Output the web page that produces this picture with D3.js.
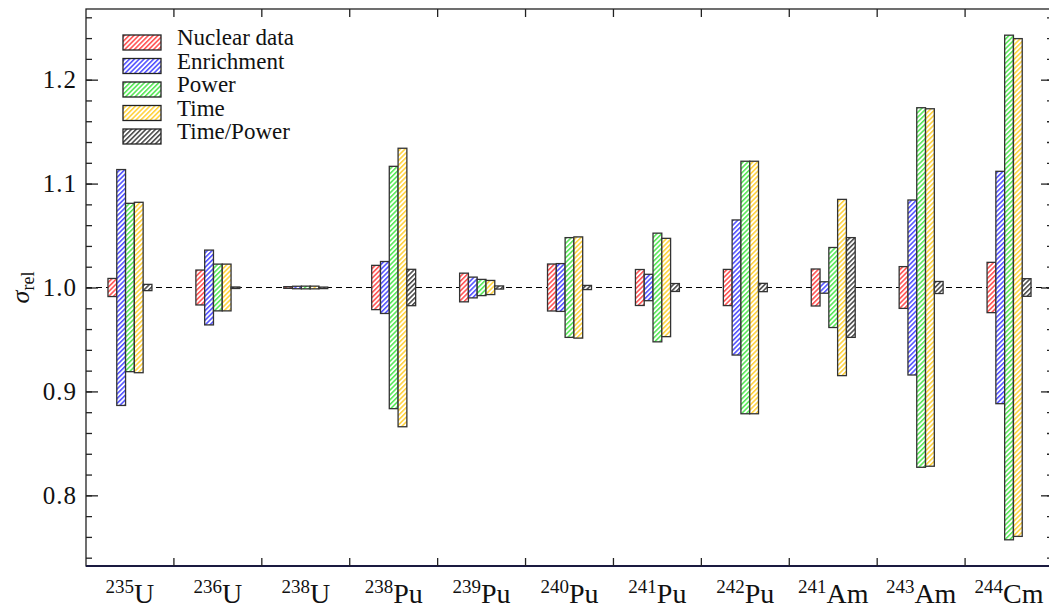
<!DOCTYPE html>
<html>
<head>
<meta charset="utf-8">
<script src="https://cdn.jsdelivr.net/npm/d3@7"></script>
<style>
  body { margin: 0; background: #fff; }
  svg text { font-family: "Liberation Serif", "DejaVu Serif", serif; fill: #111; }
</style>
</head>
<body>
<div id="chart"></div>
<script>
// isotopes (mass number, element)
var categories = ['235U', '236U', '238U', '238Pu', '239Pu', '240Pu', '241Pu', '242Pu', '241Am', '243Am', '244Cm'];
var massNumbers = ['235', '236', '238', '238', '239', '240', '241', '242', '241', '243', '244'];
var elements = ['U', 'U', 'U', 'Pu', 'Pu', 'Pu', 'Pu', 'Pu', 'Am', 'Am', 'Cm'];

var seriesNames = ['Nuclear data', 'Enrichment', 'Power', 'Time', 'Time/Power'];
var seriesColors = ['#ff1a1a', '#1a1aff', '#22e022', '#ffc400', '#111111'];

// relative std. deviation (bars go from 1 - s to 1 + s)
var nuclearData = [0.0087, 0.0168, 0.0008, 0.0213, 0.0138, 0.0226, 0.0173, 0.0174, 0.0178, 0.0201, 0.0242];
var enrichment  = [0.1135, 0.0360, 0.0012, 0.0250, 0.0100, 0.0230, 0.0127, 0.0650, 0.0055, 0.0842, 0.1118];
var power       = [0.0810, 0.0225, 0.0013, 0.1166, 0.0078, 0.0480, 0.0523, 0.1215, 0.0385, 0.1730, 0.2428];
var time        = [0.0820, 0.0225, 0.0013, 0.1340, 0.0068, 0.0487, 0.0473, 0.1215, 0.0848, 0.1720, 0.2395];
var timePower   = [0.0030, 0.0005, 0.0004, 0.0175, 0.0015, 0.0020, 0.0038, 0.0040, 0.0480, 0.0058, 0.0085];

var yMajor = [0.8, 0.9, 1.0, 1.1, 1.2];

var allSeries = [nuclearData, enrichment, power, time, timePower];

var width = 1049, height = 610;
var plotLeft = 86, plotRight = 1053, plotTop = 9, plotBottom = 566;

var svg = d3.select('#chart').append('svg')
  .attr('width', width)
  .attr('height', height);

// hatch patterns
var defs = svg.append('defs');
seriesColors.forEach(function (c, i) {
  var p = defs.append('pattern')
    .attr('id', 'hatch' + i)
    .attr('patternUnits', 'userSpaceOnUse')
    .attr('width', 3.4).attr('height', 3.4)
    .attr('patternTransform', 'rotate(45)');
  p.append('rect').attr('width', 3.4).attr('height', 3.4).attr('fill', '#fff');
  p.append('line')
    .attr('x1', 0.8).attr('y1', 0).attr('x2', 0.8).attr('y2', 3.4)
    .attr('stroke', c).attr('stroke-width', 1.2);
});

var x = d3.scaleBand().domain(categories).range([plotLeft, plotRight]);
var bw = x.bandwidth();
var xs = d3.scaleBand().domain(d3.range(5)).range([bw * 0.25, bw * 0.75]);
var y = d3.scaleLinear().domain([0.732, 1.268]).range([plotBottom, plotTop]);

// reference line at 1
svg.append('line')
  .attr('x1', plotLeft).attr('x2', plotRight)
  .attr('y1', y(1)).attr('y2', y(1))
  .attr('stroke', '#000').attr('stroke-width', 1)
  .attr('stroke-dasharray', '6,4');

// bars
allSeries.forEach(function (vals, si) {
  svg.append('g')
    .selectAll('rect')
    .data(vals)
    .enter().append('rect')
      .attr('x', function (d, i) { return x(categories[i]) + xs(si); })
      .attr('width', xs.bandwidth())
      .attr('y', function (d) { return y(1 + d); })
      .attr('height', function (d) { return Math.max(y(1 - d) - y(1 + d), 1.5); })
      .attr('fill', 'url(#hatch' + si + ')')
      .attr('stroke', '#333')
      .attr('stroke-width', 1.3);
});

// frame
svg.append('rect')
  .attr('x', plotLeft).attr('y', plotTop)
  .attr('width', plotRight - plotLeft).attr('height', plotBottom - plotTop)
  .attr('fill', 'none').attr('stroke', '#222').attr('stroke-width', 1.3);
svg.append('line')
  .attr('x1', plotLeft).attr('x2', plotRight).attr('y1', plotBottom).attr('y2', plotBottom)
  .attr('stroke', '#1a1a40').attr('stroke-width', 2);

// y axis ticks (left inward, right inward)
var minor = d3.range(0.74, 1.2601, 0.02);
svg.append('g').attr('transform', 'translate(' + plotLeft + ',0)')
  .call(d3.axisRight(y).tickValues(minor).tickSize(6).tickFormat(''));
svg.append('g').attr('transform', 'translate(' + plotRight + ',0)')
  .call(d3.axisLeft(y).tickValues(minor).tickSize(6).tickFormat(''));
svg.append('g').attr('transform', 'translate(' + plotLeft + ',0)')
  .call(d3.axisRight(y).tickValues(yMajor).tickSize(12).tickFormat(''));
svg.append('g').attr('transform', 'translate(' + plotRight + ',0)')
  .call(d3.axisLeft(y).tickValues(yMajor).tickSize(12).tickFormat(''));
svg.selectAll('.domain').remove();
svg.selectAll('.tick line').attr('stroke', '#222').attr('stroke-width', 1.3);

// y tick labels
svg.append('g').selectAll('text')
  .data(yMajor)
  .enter().append('text')
    .attr('x', 77)
    .attr('y', function (d) { return y(d) + 8.5; })
    .attr('text-anchor', 'end')
    .style('font-size', '25px')
    .style('letter-spacing', '1px')
    .text(function (d) { return d.toFixed(1); });

// category boundary ticks, top and bottom
var bounds = categories.slice(1).map(function (c) { return x(c); });
svg.append('g').selectAll('line')
  .data(bounds)
  .enter().append('line')
    .attr('x1', function (d) { return d; }).attr('x2', function (d) { return d; })
    .attr('y1', plotTop).attr('y2', plotTop + 8)
    .attr('stroke', '#222').attr('stroke-width', 1.3);
svg.append('g').selectAll('line')
  .data(bounds)
  .enter().append('line')
    .attr('x1', function (d) { return d; }).attr('x2', function (d) { return d; })
    .attr('y1', plotBottom).attr('y2', plotBottom - 8)
    .attr('stroke', '#222').attr('stroke-width', 1.3);

// category labels
var lab = svg.append('g').selectAll('text')
  .data(categories)
  .enter().append('text')
    .attr('x', function (d) { return x(d) + bw / 2; })
    .attr('y', 603)
    .attr('text-anchor', 'middle');
lab.append('tspan')
  .attr('dy', -10)
  .style('font-size', '19px')
  .text(function (d, i) { return massNumbers[i]; });
lab.append('tspan')
  .attr('dy', 10)
  .style('font-size', '28px')
  .text(function (d, i) { return elements[i]; });

// y label
var yl = svg.append('text')
  .attr('transform', 'translate(29,' + y(1) + ') rotate(-90)')
  .attr('text-anchor', 'middle');
yl.append('tspan').style('font-size', '26px').style('font-style', 'italic').text('σ');
yl.append('tspan').attr('dy', 5).style('font-size', '18px').text('rel');

// legend
var legend = svg.append('g');
seriesNames.forEach(function (name, i) {
  var ly = 35 + i * 23.5;
  legend.append('rect')
    .attr('x', 123).attr('y', ly)
    .attr('width', 38).attr('height', 15)
    .attr('fill', 'url(#hatch' + i + ')')
    .attr('stroke', '#222').attr('stroke-width', 1.3);
  legend.append('text')
    .attr('x', 177).attr('y', ly + 10)
    .style('font-size', '23px')
    .text(name);
});
</script>
</body>
</html>
